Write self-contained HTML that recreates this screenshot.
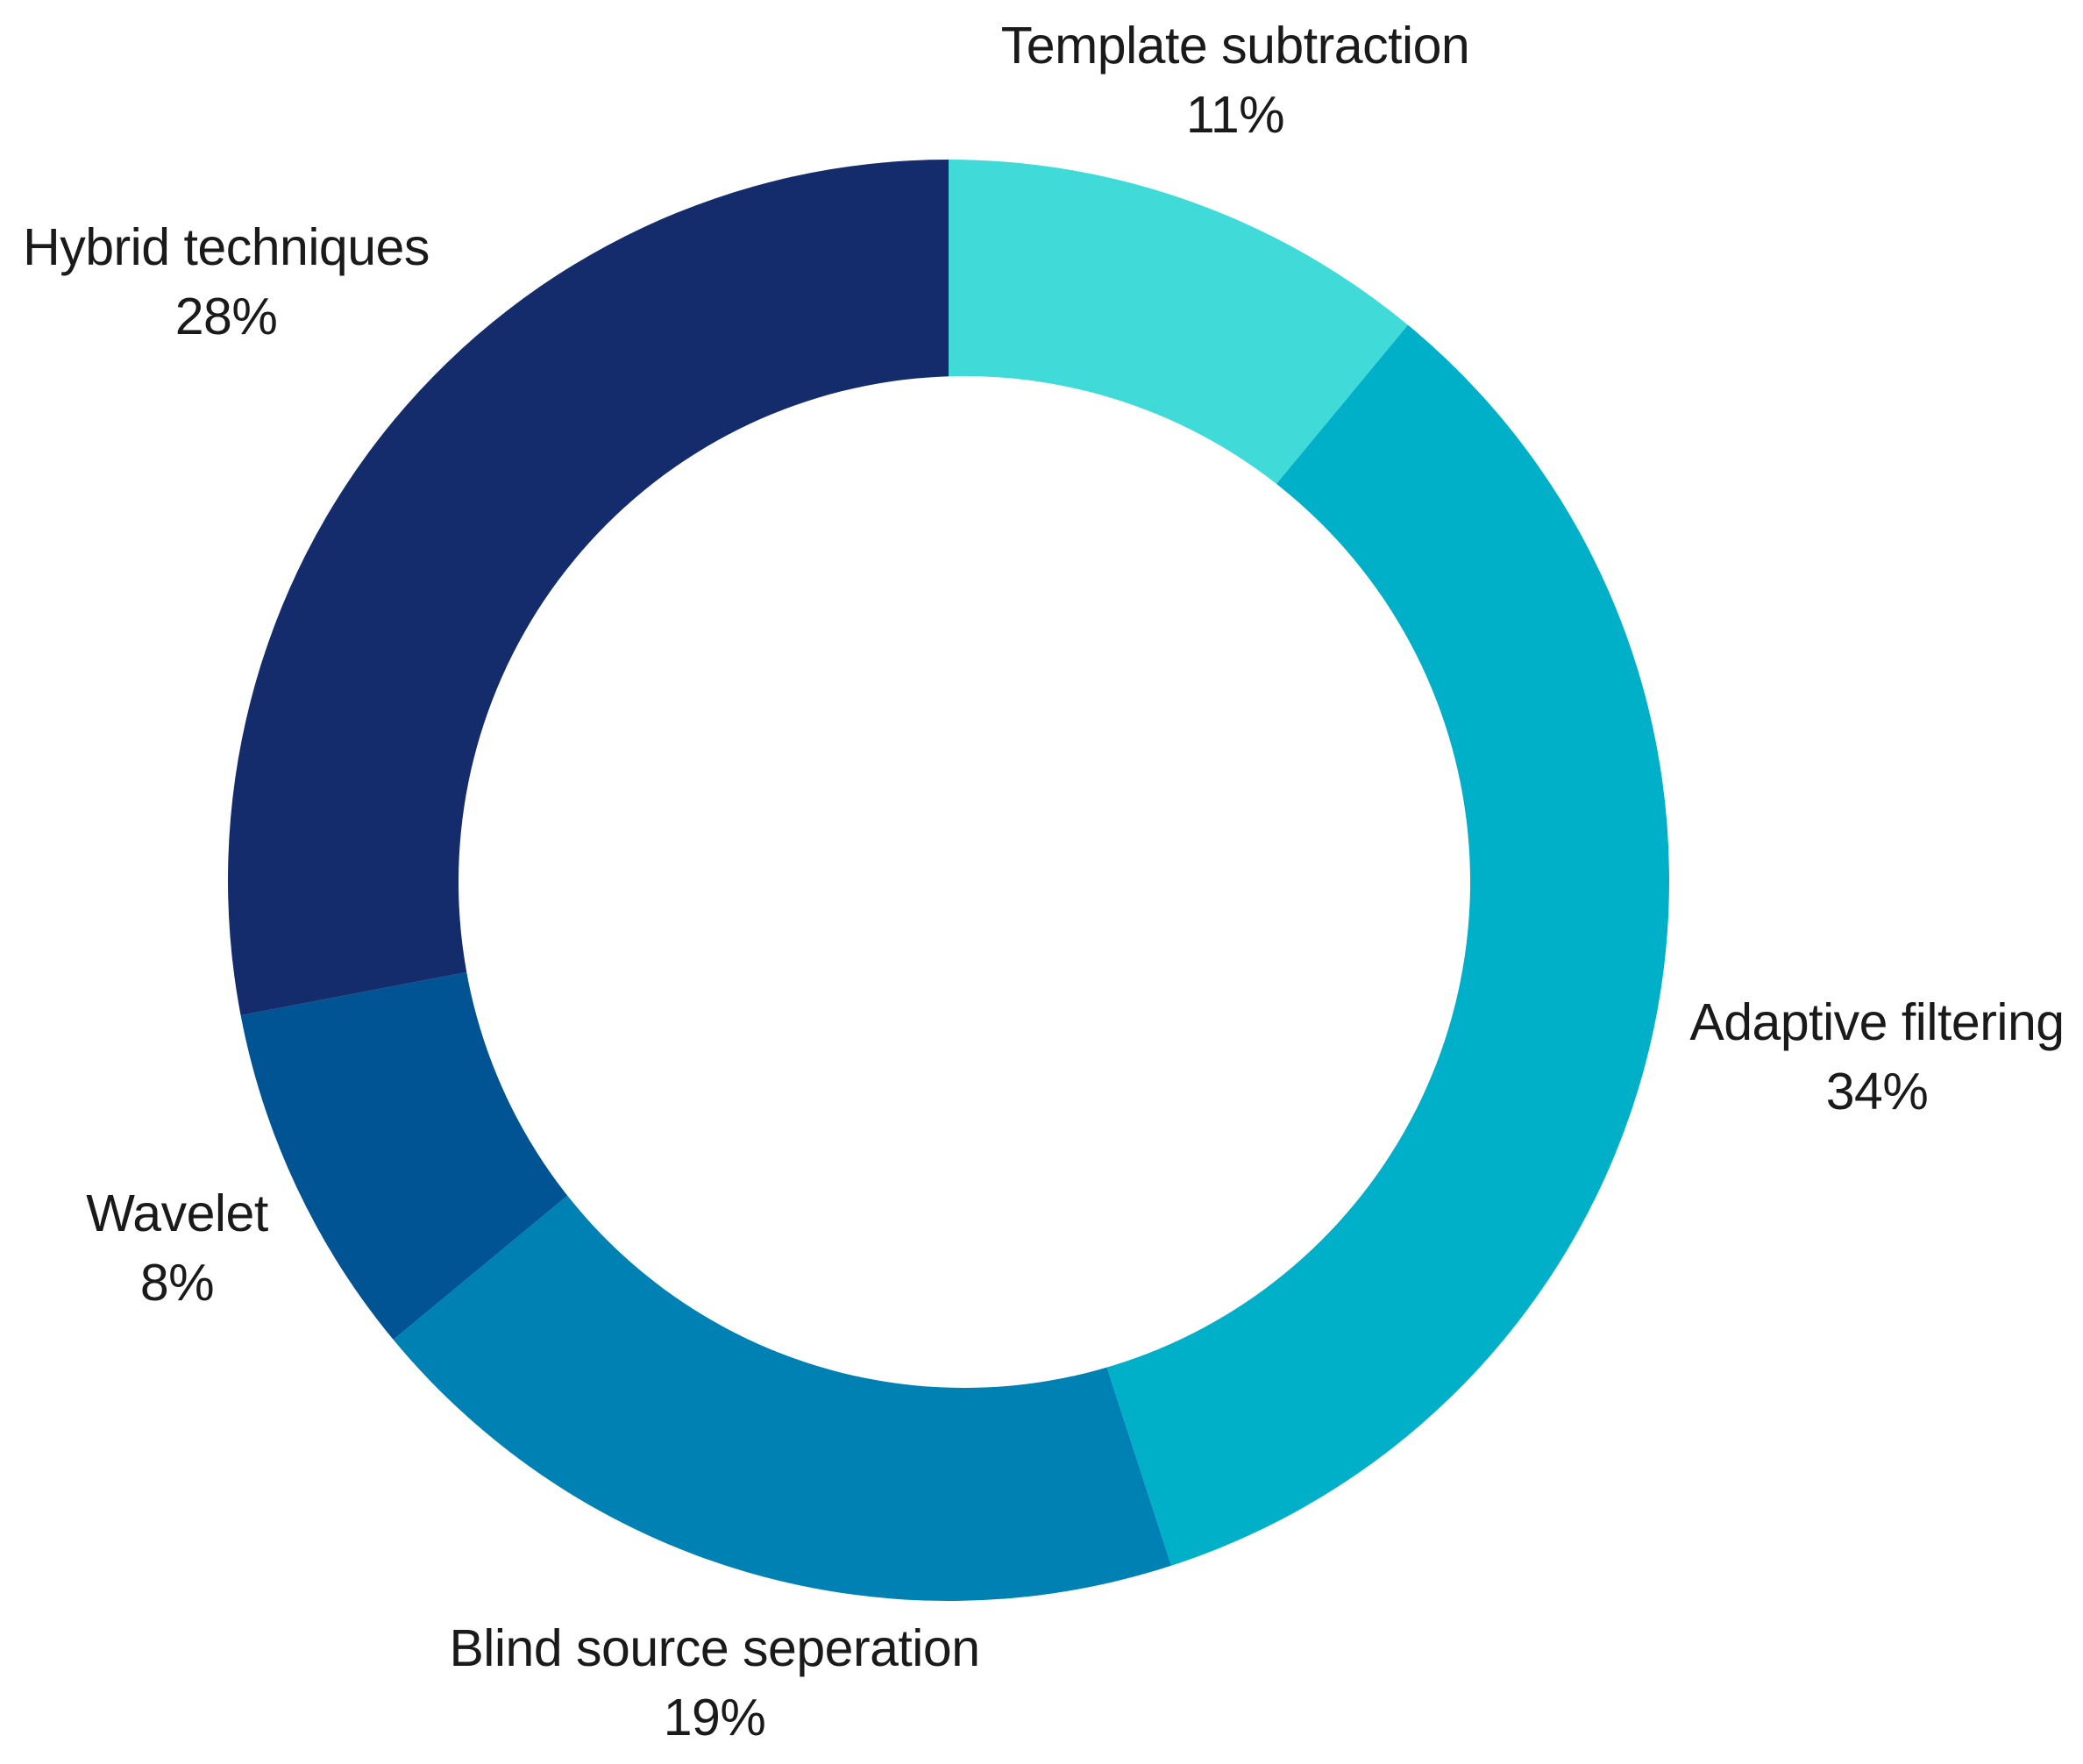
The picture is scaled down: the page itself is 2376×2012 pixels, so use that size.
<!DOCTYPE html>
<html><head><meta charset="utf-8"><style>
html,body{margin:0;padding:0;background:#fff;}
svg{display:block;}
text{font-family:"Liberation Sans",Arial,sans-serif;font-size:59px;fill:#1a1a1a;text-anchor:middle;letter-spacing:-0.5px;}
</style></head><body>
<svg id="chart" width="2376" height="2012" viewBox="0 0 2376 2012" xmlns="http://www.w3.org/2000/svg"></svg>
<script>
const categories = ["Template subtraction","Adaptive filtering","Blind source seperation","Wavelet","Hybrid techniques"];
const values = [11,34,19,8,28];
const colors = ["#40DBD8","#00AFC8","#0081B3","#005493","#142C6B"];
const labelPos = [[1409,72],[2141,1186],[815,1900],[202,1404],[258,302]];
const NS="http://www.w3.org/2000/svg";
const svg=document.getElementById('chart');
const cx=1082, cy=1004, R=822, r=577, icx=1100, icy=1006;
const total=values.reduce((a,b)=>a+b,0);
function pt(a,rad){return [cx+rad*Math.sin(a), cy-rad*Math.cos(a)];}
let acc=0;
const texts=[];
values.forEach((v,i)=>{
  const a0=acc/total*2*Math.PI; acc+=v; const a1=acc/total*2*Math.PI;
  const large=(a1-a0)>Math.PI?1:0;
  const p0=pt(a0,R),p1=pt(a1,R);
  const d=`M${cx},${cy} L${p0[0]},${p0[1]} A${R},${R} 0 ${large} 1 ${p1[0]},${p1[1]} Z`;
  const path=document.createElementNS(NS,'path');
  path.setAttribute('d',d); path.setAttribute('fill',colors[i]);
  
  
  svg.appendChild(path);
  const t=document.createElementNS(NS,'text');
  t.setAttribute('x',labelPos[i][0]); t.setAttribute('y',labelPos[i][1]);
  
  
  const s1=document.createElementNS(NS,'tspan');
  s1.setAttribute('x',labelPos[i][0]); s1.textContent=categories[i];
  const s2=document.createElementNS(NS,'tspan');
  s2.setAttribute('x',labelPos[i][0]); s2.setAttribute('dy','79'); s2.textContent=v+'%';
  t.appendChild(s1); t.appendChild(s2);
  texts.push(t);
});
const hole=document.createElementNS(NS,'circle');
hole.setAttribute('cx',icx); hole.setAttribute('cy',icy); hole.setAttribute('r',r); hole.setAttribute('fill','#fff');


svg.appendChild(hole);
texts.forEach(t=>svg.appendChild(t));
</script>
</body></html>
